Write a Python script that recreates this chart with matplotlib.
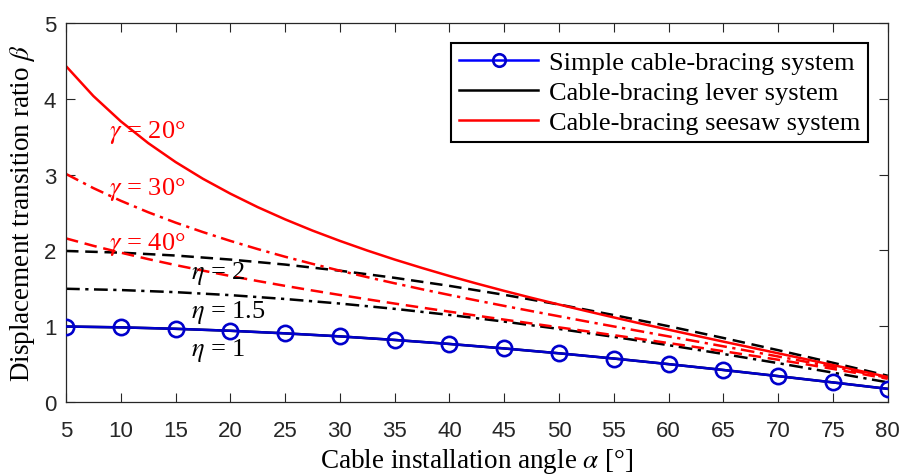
import matplotlib
matplotlib.use("Agg")
import matplotlib.pyplot as plt
from matplotlib.lines import Line2D

# cable installation angle alpha [deg]
alpha = [5, 10, 15, 20, 25, 30, 35, 40, 45, 50, 55, 60, 65, 70, 75, 80]
alpha_fine = [5, 7.5, 10, 12.5, 15, 17.5, 20, 22.5, 25, 27.5, 30, 32.5,
              35, 37.5, 40, 42.5, 45, 47.5, 50, 52.5, 55, 57.5, 60, 62.5,
              65, 67.5, 70, 72.5, 75, 77.5, 80]

# simple cable-bracing system (also lever eta = 1)
simple = [0.996, 0.985, 0.966, 0.940, 0.906, 0.866, 0.819, 0.766,
          0.707, 0.643, 0.574, 0.500, 0.423, 0.342, 0.259, 0.174]

# lever system
lever_15 = [1.494, 1.477, 1.449, 1.410, 1.359, 1.299, 1.229, 1.149,
            1.061, 0.964, 0.860, 0.750, 0.634, 0.513, 0.388, 0.260]
lever_2 = [1.992, 1.970, 1.932, 1.879, 1.813, 1.732, 1.638, 1.532,
           1.414, 1.286, 1.147, 1.000, 0.845, 0.684, 0.518, 0.347]

# seesaw system (on alpha_fine)
seesaw_20 = [4.430, 4.035, 3.702, 3.415, 3.165, 2.944, 2.748, 2.570,
             2.409, 2.261, 2.125, 1.998, 1.879, 1.768, 1.662, 1.562,
             1.466, 1.374, 1.286, 1.200, 1.116, 1.034, 0.954, 0.875,
             0.797, 0.720, 0.643, 0.566, 0.488, 0.410, 0.331]
seesaw_30 = [3.008, 2.821, 2.654, 2.503, 2.366, 2.241, 2.125, 2.017,
             1.916, 1.822, 1.732, 1.647, 1.566, 1.487, 1.412, 1.339,
             1.268, 1.199, 1.131, 1.063, 0.997, 0.932, 0.866, 0.801,
             0.735, 0.669, 0.601, 0.533, 0.464, 0.393, 0.320]
seesaw_40 = [2.158, 2.060, 1.970, 1.885, 1.806, 1.733, 1.662, 1.596,
             1.532, 1.471, 1.412, 1.355, 1.299, 1.245, 1.192, 1.139,
             1.087, 1.036, 0.985, 0.934, 0.882, 0.830, 0.778, 0.725,
             0.670, 0.615, 0.558, 0.499, 0.437, 0.374, 0.307]

legend_labels = ["Simple cable-bracing system",
                 "Cable-bracing lever system",
                 "Cable-bracing seesaw system"]

plt.rcParams["mathtext.fontset"] = "stix"
serif = "Liberation Serif"
sans = "Liberation Sans"
blue = "#0000CC"
red = "#FF0000"
lw = 1.8
dashdot = (5.5, 2.2, 1.3, 2.2)
dash = (5, 2.7)

fig = plt.figure(figsize=(9.04, 4.77), dpi=100)
ax = fig.add_axes([0.073, 0.155, 0.909, 0.795])

ax.plot(alpha, simple, color=blue, lw=lw, marker="o", ms=11,
        mfc="none", mew=1.9, zorder=4)
ax.plot(alpha, simple, color="k", lw=lw, zorder=3)
ax.plot(alpha, lever_15, color="k", lw=lw, ls="-.", dashes=dashdot)
ax.plot(alpha, lever_2, color="k", lw=lw, ls="--", dashes=dash)
ax.plot(alpha_fine, seesaw_20, color=red, lw=lw)
ax.plot(alpha_fine, seesaw_30, color=red, lw=lw, ls="-.", dashes=dashdot)
ax.plot(alpha_fine, seesaw_40, color=red, lw=lw, ls="--", dashes=dash)

ax.set_xlim(5, 80)
ax.set_ylim(0, 5)
ax.set_xticks(range(5, 81, 5))
ax.set_yticks(range(0, 6))

ax.tick_params(direction="in", length=6.5, width=0.8, top=True, right=True,
               labelsize=16, colors="#262626")
ax.tick_params(axis="x", pad=13)
ax.tick_params(axis="y", pad=7)
for lab in ax.get_xticklabels() + ax.get_yticklabels():
    lab.set_fontfamily(sans)
for sp in ax.spines.values():
    sp.set_color("#262626")
    sp.set_linewidth(0.9)

ax.set_xlabel(r"Cable installation angle $\alpha$ [°]", family=serif,
              fontsize=19.5, labelpad=3.5)
ax.set_ylabel(r"Displacement transition ratio $\beta$", family=serif,
              fontsize=19.5, labelpad=5)

# curve annotations
tkw = dict(family=serif, fontsize=19, ha="left", va="center")
ax.text(8.9, 3.57, r"$\gamma$ = 20°", color=red, **tkw)
ax.text(8.9, 2.82, r"$\gamma$ = 30°", color=red, **tkw)
ax.text(8.9, 2.09, r"$\gamma$ = 40°", color=red, **tkw)
ax.text(16.4, 1.71, r"$\eta$ = 2", color="k", **tkw)
ax.text(16.4, 1.19, r"$\eta$ = 1.5", color="k", **tkw)
ax.text(16.4, 0.69, r"$\eta$ = 1", color="k", **tkw)

handles = [
    Line2D([], [], color="#0000FF", lw=lw, marker="o", ms=9, mfc="none",
           mec=blue, mew=1.9),
    Line2D([], [], color="k", lw=lw),
    Line2D([], [], color=red, lw=lw),
]
leg = ax.legend(handles, legend_labels, loc="upper right",
                prop={"family": serif, "size": 19}, handlelength=3.0,
                handletextpad=0.4, labelspacing=0.25, borderpad=0.3,
                borderaxespad=0.75, fancybox=False, framealpha=1,
                edgecolor="k")
leg.get_frame().set_linewidth(1.5)

fig.savefig("out.png", dpi=100)
